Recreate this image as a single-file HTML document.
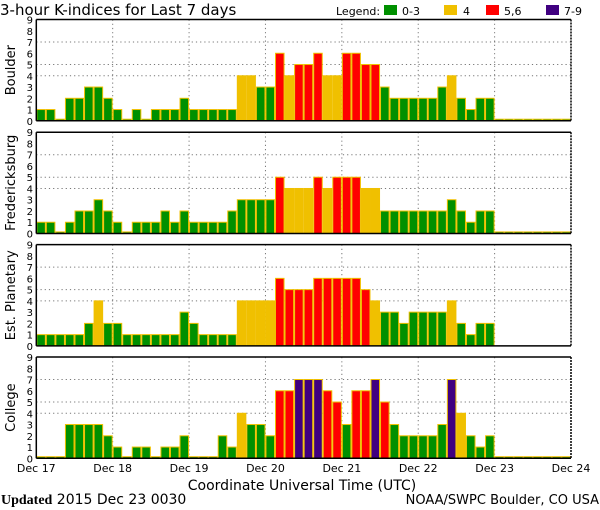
<!DOCTYPE html>
<html><head><meta charset="utf-8"><style>
html,body{margin:0;padding:0;background:#fff;}
svg{display:block;font-family:"DejaVu Sans","Liberation Sans",sans-serif;}
</style></head><body>
<svg id="chart" width="600" height="510" viewBox="0 0 600 510" xmlns="http://www.w3.org/2000/svg">
<text x="0" y="15" font-size="15">3-hour K-indices for Last 7 days</text>
<g font-size="11">
<text x="336" y="15">Legend:</text>
<rect x="384" y="5" width="13" height="10" fill="#009000"/>
<text x="402" y="15">0-3</text>
<rect x="444" y="5" width="13" height="10" fill="#f0c000"/>
<text x="463" y="15">4</text>
<rect x="486" y="5" width="13" height="10" fill="#ff0000"/>
<text x="504" y="15">5,6</text>
<rect x="546" y="5" width="13" height="10" fill="#400080"/>
<text x="564" y="15">7-9</text>
</g>
<g id="panels"></g>
<text x="302" y="490" font-size="14" text-anchor="middle">Coordinate Universal Time (UTC)</text>
<text x="1" y="504" font-size="14"><tspan font-family="'Liberation Serif',serif" font-weight="bold">Updated</tspan> 2015 Dec 23 0030</text>
<text x="599" y="504" font-size="13" text-anchor="end">NOAA/SWPC Boulder, CO USA</text>
</svg>
<script>
const stations = ["Boulder","Fredericksburg","Est. Planetary","College"];
const dayLabels = ["Dec 17","Dec 18","Dec 19","Dec 20","Dec 21","Dec 22","Dec 23","Dec 24"];
const yTicks = [0,1,2,3,4,5,6,7,8,9];
const boulder = [1,1,0,2,2,3,3,2, 1,0,1,0,1,1,1,2, 1,1,1,1,1,4,4,3, 3,6,4,5,5,6,4,4, 6,6,5,5,3,2,2,2, 2,2,3,4,2,1,2,2, 0,0,0,0,0,0,0,0];
const fredericksburg = [1,1,0,1,2,2,3,2, 1,0,1,1,1,2,1,2, 1,1,1,1,2,3,3,3, 3,5,4,4,4,5,4,5, 5,5,4,4,2,2,2,2, 2,2,2,3,2,1,2,2, 0,0,0,0,0,0,0,0];
const planetary = [1,1,1,1,1,2,4,2, 2,1,1,1,1,1,1,3, 2,1,1,1,1,4,4,4, 4,6,5,5,5,6,6,6, 6,6,5,4,3,3,2,3, 3,3,3,4,2,1,2,2, null,null,null,null,null,null,null,null];
const college = [0,0,0,3,3,3,3,2, 1,0,1,1,0,1,1,2, 0,0,0,2,1,4,3,3, 2,6,6,7,7,7,6,5, 3,6,6,7,5,3,2,2, 2,2,3,7,4,2,1,2, 0,0,0,0,0,0,0,0];
const series = [boulder,fredericksburg,planetary,college];

const NS="http://www.w3.org/2000/svg";
const L=36.3, R=571, panelTops=[19.5,132.2,244.6,357], PH=101.3;
const nBars=56, bw=(R-L)/nBars;
const xPos=i=>L+i*bw;
function colorFor(k){return k<=3?"#009000":k===4?"#f0c000":k<=6?"#ff0000":"#400080";}
function mk(tag,attrs,parent){const e=document.createElementNS(NS,tag);for(const k in attrs)e.setAttribute(k,attrs[k]);parent.appendChild(e);return e;}
const root=document.getElementById("panels");
series.forEach((data,p)=>{
  const top=panelTops[p], bot=top+PH;
  const yPos=k=>bot-k*(PH/9);
  const g=mk("g",{},root);
  
  
  mk("rect",{x:L,y:top,width:R-L,height:PH,fill:"#fff"},g);
  // grid
  [4,5,7].forEach(k=>{const l=mk("line",{x1:L,x2:R,y1:yPos(k),y2:yPos(k),stroke:"#777","stroke-dasharray":"1.2,3"},g);
    
    });
  for(let d=1;d<7;d++){const l=mk("line",{x1:xPos(d*8),x2:xPos(d*8),y1:top,y2:bot,stroke:"#777","stroke-dasharray":"1.2,3"},g);
    
    }
  // bars
  data.forEach((k,i)=>{
    if(k===null)return;
    const h=k===0?1.6:bot-yPos(k);
    const r=mk("rect",{x:xPos(i)+0.5,y:bot-h,width:bw-1,height:h,fill:colorFor(k),stroke:"#f0c000","stroke-width":1},g);
    
    
  });
  // frame
  mk("line",{x1:L,x2:R,y1:top,y2:top,stroke:"#000","stroke-width":1.5},g);
  mk("line",{x1:L,x2:R,y1:bot,y2:bot,stroke:"#000","stroke-width":1.5},g);
  mk("line",{x1:L,x2:L,y1:top,y2:bot,stroke:"#000","stroke-width":1.5},g);
  mk("line",{x1:R,x2:R,y1:top,y2:bot,stroke:"#000","stroke-width":1.5,"stroke-dasharray":"2,1"},g);
  yTicks.forEach(k=>{const t=mk("text",{x:33,y:yPos(k)+4,"font-size":10,"text-anchor":"end"},g);t.textContent=k;
    
    });
  const cy=top+PH/2;
  const lab=mk("text",{x:15,y:cy,"font-size":13,"text-anchor":"middle",transform:"rotate(-90 15 "+cy+")"},g);
  lab.textContent=stations[p];
  
  
});
dayLabels.forEach((d,i)=>{
  const t=mk("text",{x:xPos(i*8),y:472,"font-size":11,"text-anchor":"middle"},root);
  t.textContent=d;
  
  
});
</script>
</body></html>
